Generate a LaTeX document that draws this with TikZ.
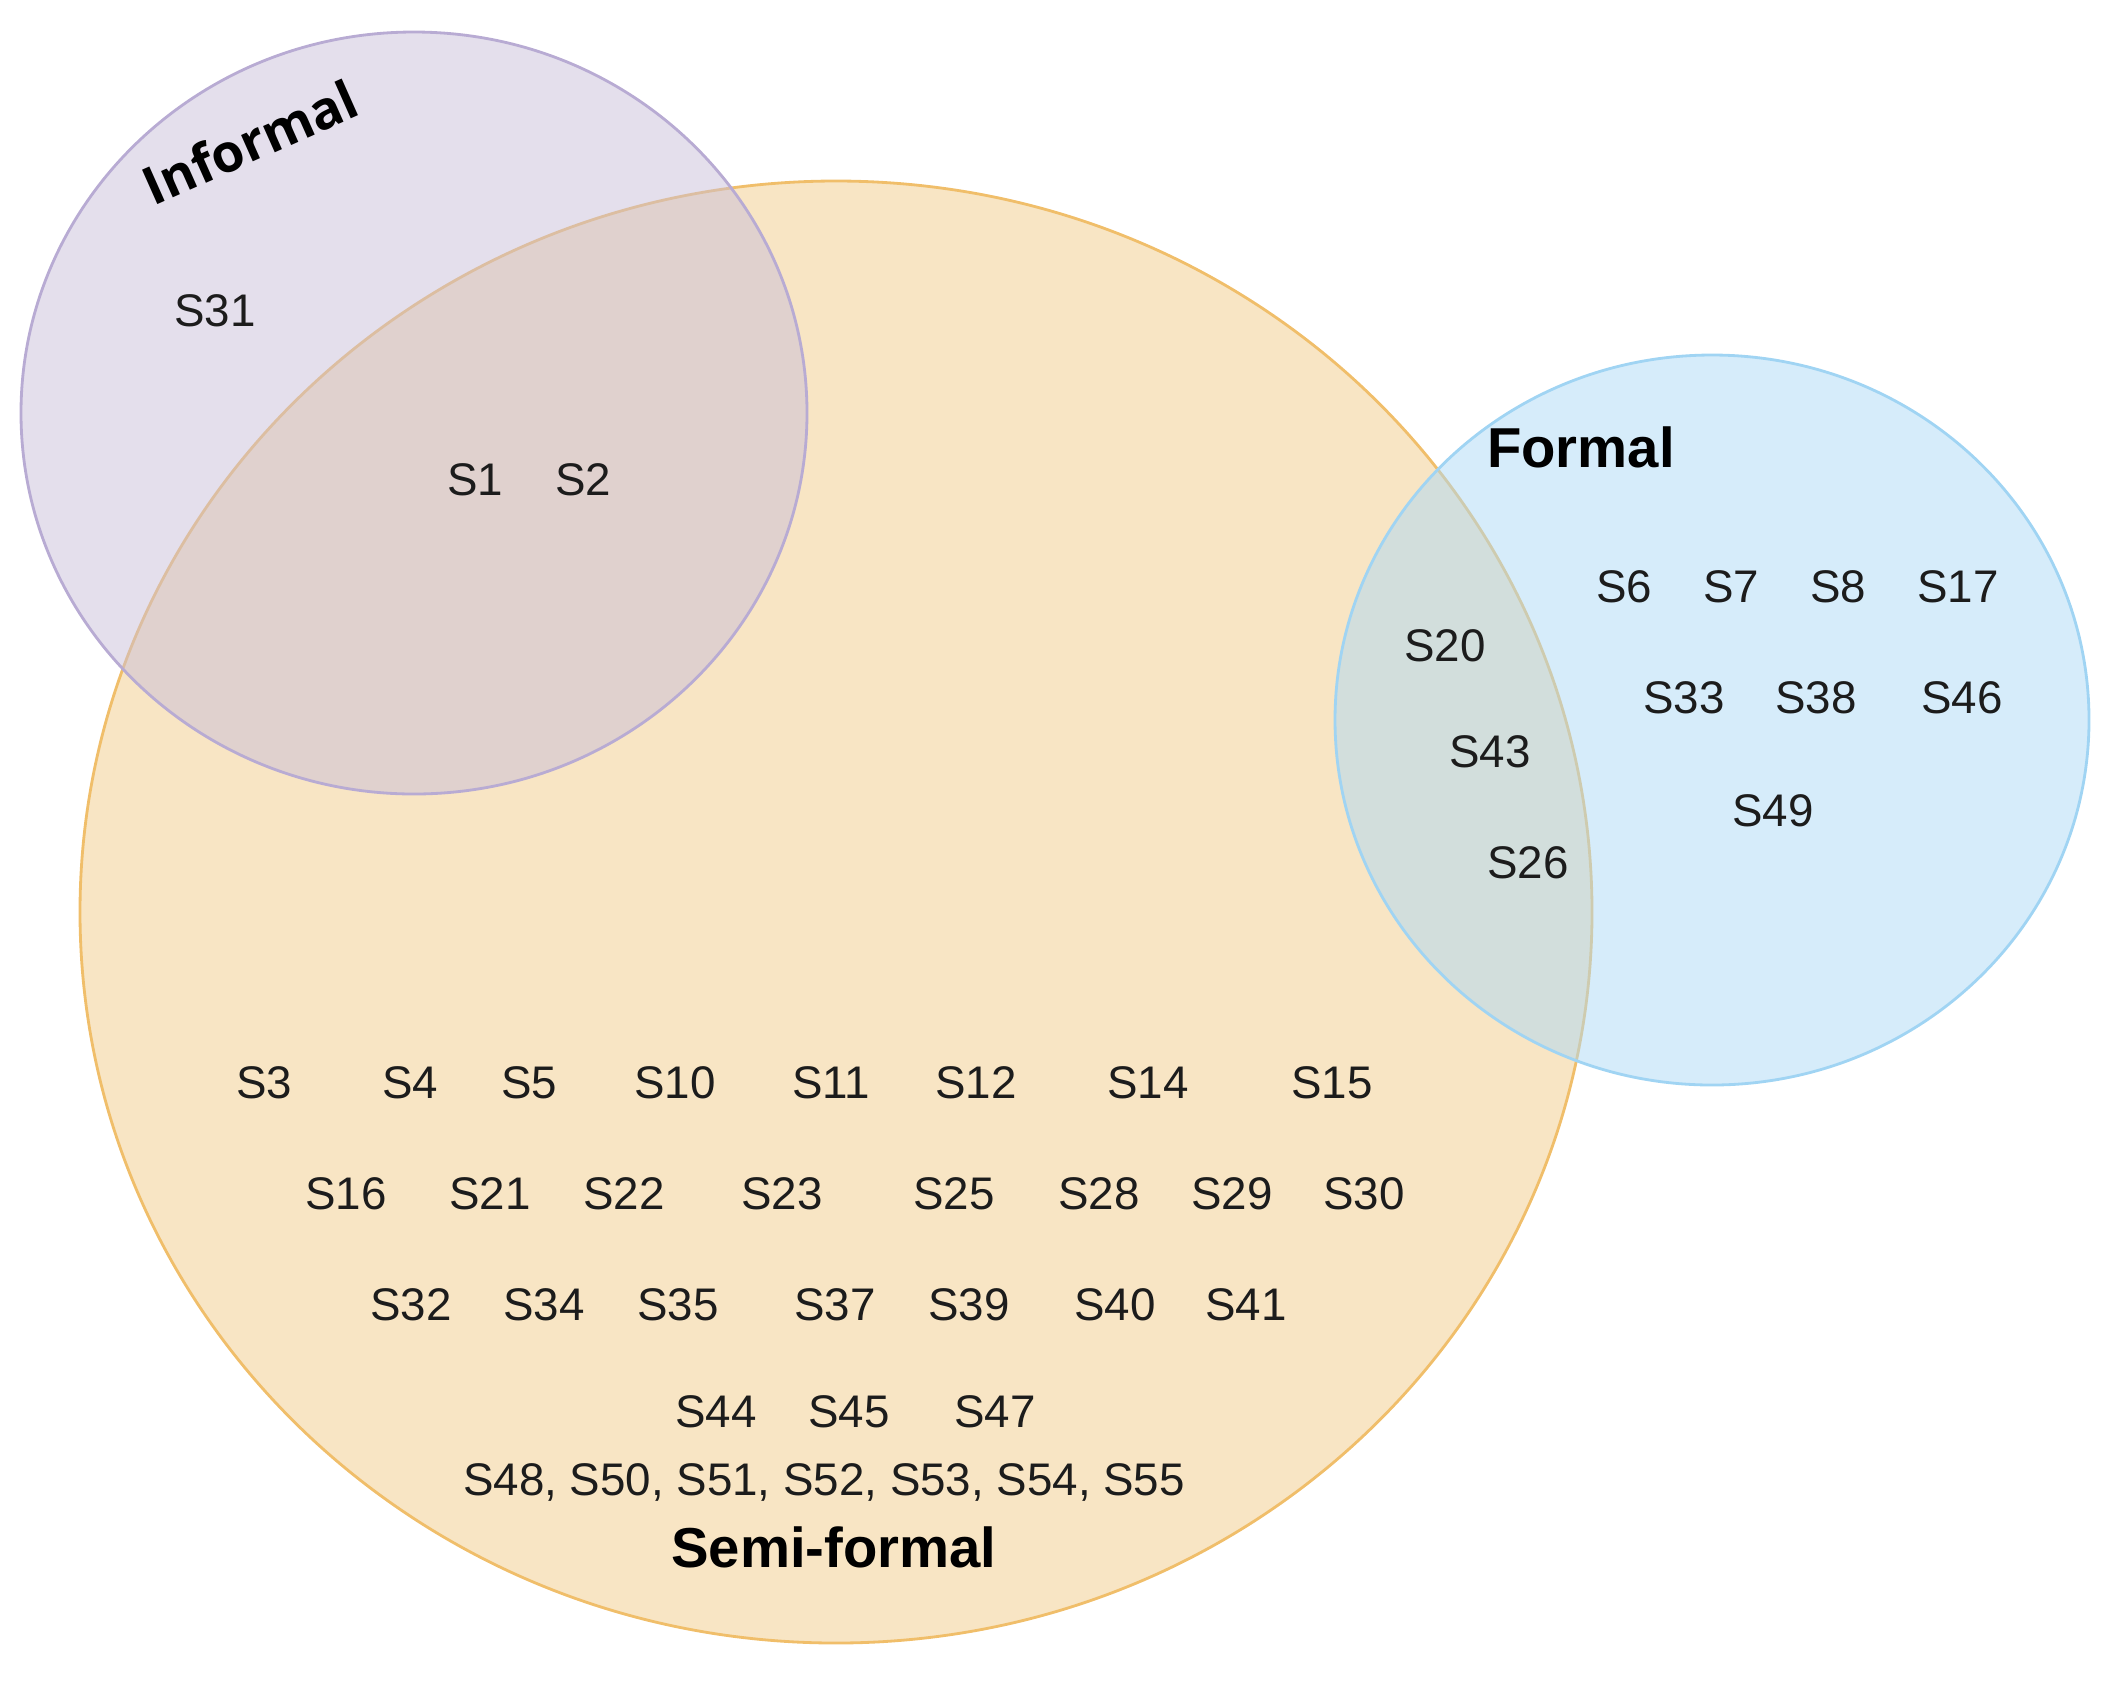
\documentclass[tikz,border=0pt]{standalone}
\usepackage{fontspec}
\setmainfont{Liberation Sans}
\newfontfamily\infont{Open Sans}
\definecolor{semifill}{HTML}{F8E5C4}
\definecolor{semiline}{HTML}{F0BE6A}
\definecolor{infill}{HTML}{C9BFD9}
\definecolor{inline}{HTML}{B8ABD3}
\definecolor{formfill}{HTML}{ADD9F5}
\definecolor{formline}{HTML}{A0D4F3}
\definecolor{txt}{HTML}{1C1C1C}
\tikzset{
  lbl/.style={text=txt, font=\fontsize{13}{15}\selectfont, inner sep=0pt, anchor=center},
  title/.style={text=black, font=\fontsize{16}{19}\selectfont\bfseries, inner sep=0pt, anchor=center},
}
\begin{document}
\begin{tikzpicture}[x=0.01cm,y=-0.01cm]
\useasboundingbox (0,0) rectangle (2122,1681);
% sets
\draw[semiline, line width=0.8pt, fill=semifill] (836,912) ellipse [x radius=756, y radius=731];
\fill[infill, fill opacity=0.5] (414,413) ellipse [x radius=393, y radius=381];
\draw[inline, line width=0.8pt] (414,413) ellipse [x radius=393, y radius=381];
\fill[formfill, fill opacity=0.5] (1712,720) ellipse [x radius=377, y radius=365];
\draw[formline, line width=0.8pt] (1712,720) ellipse [x radius=377, y radius=365];
% titles
\node[text=black, inner sep=0pt, rotate=24, font=\fontsize{15}{18}\selectfont\infont\bfseries] (informal) at (250,142) {Informal};
\node[title] (formal) at (1581,447) {Formal};
\node[title] (semiformal) at (834,1547) {Semi-formal};
% informal
\node[lbl] (s31) at (215,311) {S31};
\node[lbl] (s1) at (475,480) {S1};
\node[lbl] (s2) at (583,480) {S2};
% formal
\node[lbl] (s6) at (1624,587) {S6};
\node[lbl] (s7) at (1731,587) {S7};
\node[lbl] (s8) at (1838,587) {S8};
\node[lbl] (s17) at (1958,587) {S17};
\node[lbl] (s33) at (1684,698) {S33};
\node[lbl] (s38) at (1816,698) {S38};
\node[lbl] (s46) at (1962,698) {S46};
\node[lbl] (s49) at (1773,811) {S49};
% formal & semi
\node[lbl] (s20) at (1445,646) {S20};
\node[lbl] (s43) at (1490,752) {S43};
\node[lbl] (s26) at (1528,863) {S26};
% semi-formal rows
\node[lbl] (s3) at (264,1083) {S3};
\node[lbl] (s4) at (410,1083) {S4};
\node[lbl] (s5) at (529,1083) {S5};
\node[lbl] (s10) at (675,1083) {S10};
\node[lbl] (s11) at (831,1083) {S11};
\node[lbl] (s12) at (976,1083) {S12};
\node[lbl] (s14) at (1148,1083) {S14};
\node[lbl] (s15) at (1332,1083) {S15};
\node[lbl] (s16) at (346,1194) {S16};
\node[lbl] (s21) at (490,1194) {S21};
\node[lbl] (s22) at (624,1194) {S22};
\node[lbl] (s23) at (782,1194) {S23};
\node[lbl] (s25) at (954,1194) {S25};
\node[lbl] (s28) at (1099,1194) {S28};
\node[lbl] (s29) at (1232,1194) {S29};
\node[lbl] (s30) at (1364,1194) {S30};
\node[lbl] (s32) at (411,1305) {S32};
\node[lbl] (s34) at (544,1305) {S34};
\node[lbl] (s35) at (678,1305) {S35};
\node[lbl] (s37) at (835,1305) {S37};
\node[lbl] (s39) at (969,1305) {S39};
\node[lbl] (s40) at (1115,1305) {S40};
\node[lbl] (s41) at (1246,1305) {S41};
\node[lbl] (s44) at (716,1412) {S44};
\node[lbl] (s45) at (849,1412) {S45};
\node[lbl] (s47) at (995,1412) {S47};
\node[lbl] (srow) at (824,1482) {S48, S50, S51, S52, S53, S54, S55};
\end{tikzpicture}
\end{document}
